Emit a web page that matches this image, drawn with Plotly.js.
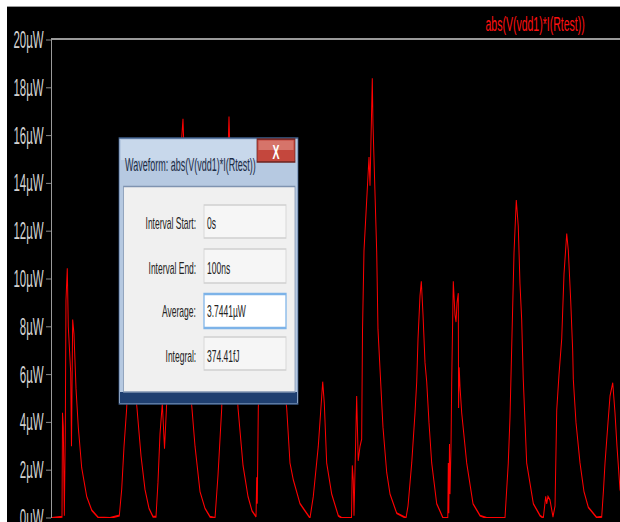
<!DOCTYPE html>
<html>
<head>
<meta charset="utf-8">
<script src="https://cdn.plot.ly/plotly-3.0.1.min.js"></script>
<style>
html,body{margin:0;padding:0;background:#ffffff;width:620px;height:522px;overflow:hidden;}
#topline{position:absolute;left:7px;top:6px;width:613px;height:1px;background:#9a9a9a;}
#wrap{position:absolute;left:7px;top:7px;width:613px;height:515px;overflow:hidden;background:#000;}
#chart{position:absolute;left:0;top:0;width:1226px;height:515px;transform:scaleX(0.5);transform-origin:0 0;}
</style>
</head>
<body>
<div id="topline"></div>
<div id="wrap"><div id="chart"></div></div>
<script>
// ---- data (time in ns, power in µW) ----
const seriesName = "abs(V(vdd1)*I(Rtest))";
const timeNs = [
  0,1.76,1.85,1.99,2.17,2.34,2.46,2.69,2.87,3.05,3.29,3.43,3.64,3.87,4.23,4.63,5.23,6.11,6.99,8.15,10.21,
  11.85,12.27,12.68,13.15,13.56,13.91,14.26,14.61,14.96,15.67,16.37,17.08,17.78,18.31,
  18.66,19.01,19.42,19.81,20.19,20.77,21.48,22.18,22.71,23.06,23.42,23.77,24.12,24.60,25.18,26.06,26.94,27.82,28.70,
  29.23,29.88,30.28,30.72,31.16,31.60,32.04,32.39,32.75,33.63,34.51,35.21,35.92,
  36.04,36.14,36.32,36.80,37.32,37.85,38.38,38.91,39.44,39.96,40.67,41.32,41.90,42.48,43.66,45.42,
  46.00,46.88,47.48,47.66,47.94,48.36,49.24,50.40,51.00,52.73,
  52.87,53.04,53.17,53.35,53.64,53.91,54.23,54.52,54.67,54.93,55.46,55.81,55.99,56.16,56.39,56.51,56.69,56.87,57.17,57.39,57.75,58.27,58.93,59.51,60.69,62.32,
  62.68,63.33,63.91,64.21,64.44,64.79,65.02,65.32,65.67,65.97,66.37,66.85,67.73,68.84,69.68,
  69.77,69.86,69.98,70.07,70.25,70.37,70.65,70.95,71.13,71.30,71.53,71.58,71.69,71.83,72.13,73.01,74.12,75.35,76.53,79.75,
  80.33,80.63,80.93,81.34,81.74,82.09,82.39,82.69,82.97,83.19,83.57,84.74,85.92,86.50,
  86.92,87.10,87.32,87.68,88.20,88.56,
  88.86,89.26,89.74,90.14,90.62,90.90,91.32,91.67,91.78,92.25,92.96,93.66,94.42,95.90,96.78,
  97.10,97.36,97.89,98.24,98.72,99.12,99.47,100.0,100.88,101.76
];
const powerUW = [
  0,0.05,4.4,3.8,0.1,3.6,9.1,10.45,8.0,7.2,6.1,3.0,8.3,7.7,5.4,3.8,2.1,0.9,0.33,0.02,0,
  0.1,1.2,3.0,4.6,7.0,8.5,7.5,5.5,4.6,2.6,1.2,0.4,0.05,0.05,
  1.5,3.5,4.8,2.9,4.8,8.0,11.0,13.5,15.5,16.7,14.0,10.5,7.5,4.7,3.0,1.1,0.4,0.05,0,
  1.8,4.6,8.5,13.0,16.8,13.0,9.0,6.2,4.6,2.2,0.9,0.3,0.05,
  1.7,0.6,4.6,8.0,11.0,12.5,11.5,10.0,9.5,8.0,6.0,4.6,2.3,1.6,0.6,0,
  0.9,3.0,5.1,5.7,4.8,2.3,1.0,0.1,0,0,
  2.2,1.6,0.1,2.2,5.1,2.4,3.0,3.3,7.9,11.2,13.5,15.1,13.9,16.0,18.4,16.5,15.0,13.3,11.1,7.9,6.2,3.8,1.9,1.0,0.2,0,
  0.5,2.3,4.4,5.7,7.5,9.3,9.9,8.5,6.5,5.7,4.0,2.3,0.6,0,0,
  2.3,0.2,3.1,1.0,3.0,5.7,9.9,8.5,8.2,9.0,9.4,4.6,6.3,5.5,4.4,2.3,0.6,0.1,0,0,
  2.3,4.2,7.0,11.1,13.3,12.2,9.8,8.3,5.8,4.4,2.3,0.6,0.1,0,
  0.9,0.6,0.9,0.75,0.05,0.5,
  4.5,6.0,7.5,10.2,11.9,11.2,9.1,7.0,5.8,4.0,2.3,1.1,0.45,0.02,0.05,
  1.2,2.3,4.0,5.1,5.65,4.4,3.0,1.2,0.4,0.1
];
const yTickVals = [0,2,4,6,8,10,12,14,16,18,20];
const yTickText = ["0µW","2µW","4µW","6µW","8µW","10µW","12µW","14µW","16µW","18µW","20µW"];
const dlgTitle = "Waveform: abs(V(vdd1)*I(Rtest))";
const dlgLabels = ["Interval Start:","Interval End:","Average:","Integral:"];
const dlgValues = ["0s","100ns","3.7441µW","374.41fJ"];

// ---- layout helpers (page pixels -> paper coords of the plot area) ----
const PL=52, PR=620, PT=40, PB=518;
const X = px => (px-PL)/(PR-PL);
const Y = py => (PB-py)/(PB-PT);
const FONT = "Liberation Sans, Arial, sans-serif";
function rect(x0,y0,x1,y1,fill,line,lw){
  return {type:'rect',xref:'paper',yref:'paper',x0:X(x0),x1:X(x1),y0:Y(y1),y1:Y(y0),
    fillcolor:fill,line:{color:line||'rgba(0,0,0,0)',width:lw||0},layer:'above'};
}
function note(text,px,py,anchor,size,color){
  return {text:text,xref:'paper',yref:'paper',x:X(px),y:Y(py),xanchor:anchor,yanchor:'middle',
    showarrow:false,font:{family:FONT,size:size,color:color}};
}

const shapes = [
  rect(119,138,298,404,'#b6c9e1','#3f5f8c',1.5),
  rect(121,140,296,160,'#c8d8eb'),
  rect(120,392,297,403,'#1f3f70'),
  rect(123.5,186.5,295,392,'#f0f0f0','#7f93b0',1.5),
  rect(257,139,295,162,'#c4473d','#6a2320',1.5),
  rect(258.5,140.5,293.5,150,'#d6746a'),
  rect(204,205,286,238,'#f6f6f6','#d0d0d0',1.5),
  rect(204,249,286,283,'#f6f6f6','#d0d0d0',1.5),
  rect(204,294,286,328,'#ffffff','#7db3e8',2.5),
  rect(204,337,286,370,'#f6f6f6','#d0d0d0',1.5)
];
const labelY = [223,268,312,356];
const annotations = [
  note(seriesName,535,24,'center',21,'#ff1010'),
  note(dlgTitle,124,165,'left',18,'#1b2b45'),
  note('<b>X</b>',276,152,'center',21,'#ffffff')
];
dlgLabels.forEach((t,i)=>annotations.push(note(t,197,labelY[i],'right',17,'#222222')));
dlgValues.forEach((t,i)=>annotations.push(note(t,206,labelY[i],'left',17,'#222222')));

const trace = {x:timeNs,y:powerUW,type:'scatter',mode:'lines',name:seriesName,
  line:{color:'#ff0000',width:2},hoverinfo:'skip'};

const layout = {
  width:1226,height:515,autosize:false,
  margin:{l:90,r:0,t:33,b:4,pad:0},
  paper_bgcolor:'#000000',plot_bgcolor:'#000000',
  showlegend:false,
  xaxis:{range:[0,100],side:'top',showline:true,linecolor:'#9a9a9a',linewidth:2,
    showgrid:false,zeroline:false,showticklabels:false,ticks:'',fixedrange:true},
  yaxis:{range:[0,20],tickvals:yTickVals,ticktext:yTickText,ticks:'outside',ticklen:10,tickwidth:1,
    tickcolor:'#b8b8b8',showline:true,linecolor:'#9a9a9a',linewidth:2,showgrid:false,zeroline:false,
    ticklabeloverflow:'allow',
    tickfont:{family:FONT,size:23,color:'#d2d2d2'},fixedrange:true},
  shapes:shapes,annotations:annotations
};
Plotly.newPlot('chart',[trace],layout,{displayModeBar:false,staticPlot:true});
</script>
</body>
</html>
